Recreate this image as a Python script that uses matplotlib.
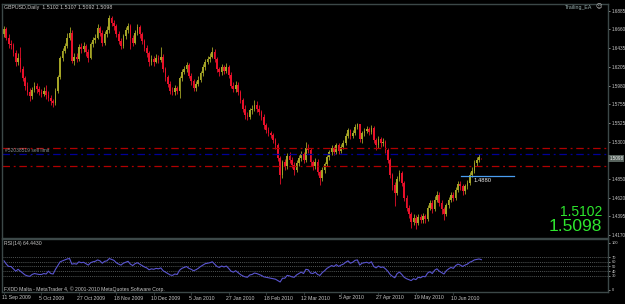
import matplotlib
matplotlib.use('Agg')
import matplotlib.pyplot as plt
from matplotlib.transforms import blended_transform_factory

# ---------------- data (prices x 10000) ----------------
opens = [16600,16664,16560,16480,16470,16380,16260,16320,16180,16070,15980,15900,15850,15930,15980,15940,15900,15880,15910,15860,
         15830,15790,15770,15920,16080,16310,16400,16460,16560,16620,16280,16330,16300,16450,16420,16460,16390,16320,16480,16530,
         16560,16680,16620,16500,16600,16650,16800,16740,16700,16600,16520,16460,16580,16650,16700,16560,16500,16620,16690,16600,
         16520,16440,16380,16260,16300,16270,16310,16290,16330,16180,16080,16000,15920,15900,15950,15920,16070,16150,16180,16230,
         16100,16030,15950,16000,16050,16130,16200,16270,16300,16330,16390,16300,16180,16140,16200,16160,16200,16110,15980,15940,
         15990,15900,15800,15700,15620,15600,15680,15700,15740,15700,15660,15600,15500,15440,15400,15380,15320,15260,15100,14900,
         15050,15000,15130,15080,15020,14960,15040,15100,15150,15080,15230,15200,15050,15000,15060,14930,14860,14960,15030,15110,
         15170,15220,15180,15260,15190,15240,15290,15370,15440,15370,15400,15480,15510,15330,15400,15430,15450,15420,15470,15320,
         15260,15330,15280,15300,15200,15080,14900,14780,14680,14850,14920,14800,14620,14500,14420,14330,14380,14320,14390,14350,
         14400,14360,14500,14560,14480,14600,14660,14560,14480,14420,14530,14600,14660,14620,14720,14790,14760,14700,14760,14800,
         14900,14950,15040,15080,15102]
closes = [16664,16560,16480,16470,16380,16260,16320,16180,16070,15980,15900,15850,15930,15980,15940,15900,15880,15910,15860,15830,
          15790,15770,15920,16080,16310,16400,16460,16560,16620,16280,16330,16300,16450,16420,16460,16390,16320,16480,16530,16560,
          16680,16620,16500,16600,16650,16800,16740,16700,16600,16520,16460,16580,16650,16700,16560,16500,16620,16690,16600,16520,
          16440,16380,16260,16300,16270,16310,16290,16330,16180,16080,16000,15920,15900,15950,15920,16070,16150,16180,16230,16100,
          16030,15950,16000,16050,16130,16200,16270,16300,16330,16390,16300,16180,16140,16200,16160,16200,16110,15980,15940,15990,
          15900,15800,15700,15620,15600,15680,15700,15740,15700,15660,15600,15500,15440,15400,15380,15320,15260,15100,14900,15050,
          15000,15130,15080,15020,14960,15040,15100,15150,15080,15230,15200,15050,15000,15060,14930,14860,14960,15030,15110,15170,
          15220,15180,15260,15190,15240,15290,15370,15440,15370,15400,15480,15510,15330,15400,15430,15450,15420,15470,15320,15260,
          15330,15280,15300,15200,15080,14900,14780,14680,14850,14920,14800,14620,14500,14420,14330,14380,14320,14390,14350,14400,
          14360,14500,14560,14480,14600,14660,14560,14480,14420,14530,14600,14660,14620,14720,14790,14760,14700,14760,14800,14900,
          14950,15040,15080,15110,15098]
highs = [16700,16690,16600,16530,16500,16410,16370,16450,16220,16100,16020,15950,15960,16020,16010,15970,15940,15960,15990,15920,
         15870,15820,15950,16110,16340,16440,16500,16620,16690,16650,16380,16370,16480,16500,16510,16480,16420,16510,16570,16610,
         16720,16700,16650,16640,16700,16840,16820,16780,16730,16640,16560,16610,16690,16740,16720,16590,16650,16720,16710,16630,
         16550,16470,16400,16350,16340,16360,16350,16450,16360,16200,16110,16030,15960,15990,15980,16100,16180,16220,16260,16250,
         16130,16060,16040,16090,16160,16240,16300,16340,16380,16450,16420,16330,16210,16240,16230,16250,16230,16140,16020,16030,
         16020,15930,15830,15740,15660,15710,15740,15800,15790,15740,15690,15630,15530,15480,15430,15410,15350,15290,15130,15080,
         15090,15160,15170,15110,15050,15080,15140,15190,15180,15300,15270,15220,15080,15100,15090,14960,14990,15060,15140,15200,
         15260,15250,15290,15280,15270,15320,15400,15470,15460,15440,15510,15530,15520,15430,15470,15490,15480,15500,15490,15350,
         15370,15360,15340,15320,15230,15100,14920,14810,14880,14960,14950,14830,14650,14530,14450,14420,14410,14430,14420,14440,
         14430,14530,14590,14590,14640,14700,14690,14590,14510,14560,14630,14690,14690,14750,14820,14820,14790,14790,14840,14930,
         14990,15080,15120,15150,15107]
lows = [16570,16530,16440,16420,16340,16220,16230,16150,16040,15930,15870,15790,15820,15900,15890,15860,15840,15850,15820,15790,
        15750,15720,15740,15890,16060,16280,16370,16430,16530,16250,16230,16260,16280,16380,16390,16340,16260,16300,16450,16500,
        16540,16580,16460,16470,16570,16620,16700,16650,16570,16480,16420,16440,16550,16620,16420,16460,16480,16590,16560,16480,
        16400,16330,16220,16230,16220,16250,16250,16270,16150,16040,15960,15880,15860,15870,15880,15830,16040,16120,16140,16070,
        15990,15920,15920,15970,16020,16100,16170,16240,16270,16310,16260,16150,16090,16110,16120,16130,16070,15950,15900,15900,
        15860,15770,15660,15580,15560,15570,15640,15670,15660,15620,15560,15460,15400,15370,15340,15290,15210,15070,14790,14860,
        14960,14970,15040,14980,14900,14930,15010,15070,15040,15060,15160,15010,14960,14970,14900,14780,14830,14920,15000,15080,
        15140,15140,15150,15150,15160,15210,15260,15340,15330,15340,15380,15450,15300,15290,15370,15400,15380,15390,15290,15200,
        15230,15240,15250,15160,15040,14860,14720,14520,14650,14820,14760,14580,14460,14380,14260,14290,14240,14290,14310,14320,
        14310,14340,14470,14440,14460,14570,14520,14430,14350,14400,14500,14570,14580,14600,14690,14720,14660,14670,14730,14770,
        14870,14920,15010,15050,15092]
rsi_values = [62,55,50,50,45,40,44,40,36,32,30,29,33,35,34,33,33,35,34,40,
              35,34,44,52,60,62,64,66,67,55,56,55,60,58,59,56,53,58,60,61,
              64,62,57,61,62,67,65,63,58,55,53,57,59,61,55,52,56,58,55,52,
              49,47,43,45,44,46,45,47,41,38,35,32,31,34,33,42,46,48,50,46,
              44,41,43,46,50,53,56,57,58,60,55,50,48,51,49,51,46,40,38,41,
              37,33,30,28,27,32,33,36,35,33,31,28,27,26,25,24,23,20,17,25,
              25,31,30,28,27,32,35,38,35,44,43,36,35,38,33,31,37,41,46,49,
              52,50,54,50,53,55,59,62,57,59,63,64,53,57,58,59,57,60,50,47,
              51,48,49,45,40,33,29,26,35,38,33,27,24,22,20,24,22,27,26,29,
              28,36,39,35,42,45,40,37,34,41,45,48,46,52,55,53,50,53,55,59,
              61,64,65,66,64.443]
date_labels = ["11 Sep 2009","5 Oct 2009","27 Oct 2009","18 Nov 2009","10 Dec 2009","5 Jan 2010",
               "27 Jan 2010","18 Feb 2010","12 Mar 2010","5 Apr 2010","27 Apr 2010","19 May 2010","10 Jun 2010"]
date_label_bars = [0,16,32,48,64,80,96,112,128,144,160,176,192]
price_ticks = [1.6885,1.6660,1.6435,1.6205,1.5980,1.5755,1.5525,1.5300,1.4850,1.4620,1.4395,1.4170]
rsi_ticks = [100,70,60,50,40,30,0]
rsi_levels = [70,60,50,40,30]
sell_limit_lines = [1.5220,1.5006]
order_line = 1.5147
trend_level = 1.4880
trend_bars = [195.3, 218.0]
bid, ask_shown = 1.5098, 1.5102
header = "GBPUSD,Daily  1.5102 1.5107 1.5092 1.5098"

# ---------------- figure ----------------
W, H = 625, 304
fig = plt.figure(figsize=(6.25, 3.04), dpi=100, facecolor='#000000')
def fx(x): return x / W
def fy(y): return 1 - y / H

FONT = 'Liberation Sans'
TXT = '#c8c8c8'
FRAME = '#3c4848'
UP, DN = '#a4a426', '#e8102a'
xl = (-0.855, 258.1)

ax = fig.add_axes([fx(2), fy(238), fx(608) - fx(2), fy(4) - fy(238)])
ax.set_facecolor('#000000')
ax.set_xlim(*xl)
ax.set_ylim(1.4134, 1.6968)

n = len(closes)
o = [v / 10000 for v in opens]
c = [v / 10000 for v in closes]
hi = [v / 10000 for v in highs]
lo = [v / 10000 for v in lows]
for i in range(n):
    col = UP if c[i] >= o[i] else DN
    ax.vlines(i, lo[i], hi[i], color=col, lw=0.6)
    h = c[i] - o[i]
    if abs(h) < 0.0004:
        h = 0.0004 if h >= 0 else -0.0004
    ax.bar(i, h, bottom=o[i], width=0.72, color=col, lw=0)

for lvl in sell_limit_lines:
    ax.axhline(lvl, color='#b00000', lw=0.9, ls=(0, (6, 3, 1.5, 3)))
ax.axhline(order_line, color='#000098', lw=0.9, ls=(0, (6, 3, 1.5, 3)))
ax.plot(trend_bars, [trend_level, trend_level], color='#4a9ef0', lw=0.9)
ax.text(200.5, trend_level - 0.0048, f"{trend_level:.4f}", color='#e8e8e8', fontsize=4.2,
        family=FONT, ha='left', va='center')

ax.yaxis.tick_right()
ax.set_yticks(price_ticks)
ax.set_yticklabels([f"{t:.4f}" for t in price_ticks])
ax.tick_params(axis='y', colors=TXT, labelsize=3.3, length=1.5, width=0.5, pad=1.0)
for lab in ax.get_yticklabels():
    lab.set_family(FONT)
ax.set_xticks([])
for s in ax.spines.values():
    s.set_color(FRAME)
    s.set_linewidth(1.0)

# RSI panel
ax2 = fig.add_axes([fx(2), fy(292), fx(608) - fx(2), fy(239) - fy(292)])
ax2.set_facecolor('#000000')
ax2.set_xlim(*xl)
ax2.set_ylim(-4.3, 108.5)
for lvl in rsi_levels:
    ax2.axhline(lvl, color='#6a7070', lw=0.5, ls=(0, (1.5, 1.5)))
ax2.plot(range(len(rsi_values)), rsi_values, color='#5a55d0', lw=0.8)
ax2.yaxis.tick_right()
ax2.set_yticks(rsi_ticks)
ax2.set_yticklabels([str(t) for t in rsi_ticks])
ax2.tick_params(axis='y', colors=TXT, labelsize=2.9, length=1.5, width=0.5, pad=1.0)
for lab in ax2.get_yticklabels():
    lab.set_family(FONT)
ax2.set_xticks(date_label_bars)
ax2.set_xticklabels([''] * len(date_label_bars))
ax2.tick_params(axis='x', colors=FRAME, length=2, width=0.5)
for s in ax2.spines.values():
    s.set_color(FRAME)
    s.set_linewidth(1.0)

tr = blended_transform_factory(ax2.transData, fig.transFigure)
for b, lab in zip(date_label_bars, date_labels):
    ax2.text(b - 1.0, fy(298), lab, transform=tr, color=TXT, fontsize=3.7, family=FONT,
             ha='left', va='center')

# texts
fig.text(fx(4), fy(7), header, color=TXT, fontsize=3.8, family=FONT, ha='left', va='center')
fig.text(fx(592), fy(7), "Trailing_EA", color='#9ab0b0', fontsize=3.8, family=FONT, ha='right', va='center')
fig.text(fx(596), fy(7), "\u263a", color='#c8c8c8', fontsize=4.5, family='DejaVu Sans', ha='left', va='center')
fig.text(fx(5), fy(151), "#52038519 sell limit", color='#8a9090', fontsize=3.6, family=FONT, ha='left', va='center')
fig.text(fx(4), fy(243), "RSI(14) 64.4430", color=TXT, fontsize=3.7, family=FONT, ha='left', va='center')
fig.text(fx(4), fy(289), "FXDD Malta - MetaTrader 4, \u00a9 2001-2010 MetaQuotes Software Corp.",
         color=TXT, fontsize=3.7, family=FONT, ha='left', va='center')
fig.text(fx(602), fy(211.5), f"{ask_shown:.4f}", color='#2ee62e', fontsize=10, family=FONT,
         ha='right', va='center')
fig.text(fx(602), fy(226.5), f"{bid:.4f}", color='#2ee62e', fontsize=12.5, family=FONT,
         ha='right', va='center')
# current price label on the axis
ax.text(1.002, bid, f"{bid:.4f}", transform=blended_transform_factory(ax.transAxes, ax.transData),
        color='#f0f0f0', fontsize=3.3, family=FONT, ha='left', va='center',
        bbox=dict(boxstyle='square,pad=0.2', fc='#56625c', ec='none'))

fig.savefig('out.png', dpi=100, facecolor=fig.get_facecolor())
